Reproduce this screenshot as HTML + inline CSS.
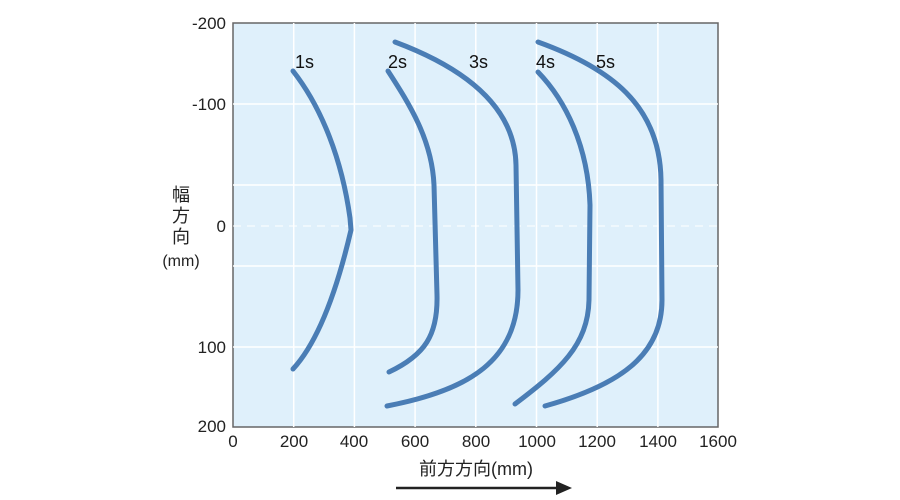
<!DOCTYPE html>
<html><head><meta charset="utf-8"><style>
body{margin:0;background:#fff;}
svg{display:block;font-family:"Liberation Sans","Noto Sans CJK JP",sans-serif;}
</style></head><body>
<svg width="900" height="500" viewBox="0 0 900 500">
<rect x="233" y="23" width="485" height="404" fill="#dff0fb" stroke="#666" stroke-width="1.5"/>
<g stroke="#fff" stroke-width="1.5">
<line x1="293.7" y1="23" x2="293.7" y2="427"/>
<line x1="354.4" y1="23" x2="354.4" y2="427"/>
<line x1="415.1" y1="23" x2="415.1" y2="427"/>
<line x1="475.8" y1="23" x2="475.8" y2="427"/>
<line x1="536.5" y1="23" x2="536.5" y2="427"/>
<line x1="597.2" y1="23" x2="597.2" y2="427"/>
<line x1="657.9" y1="23" x2="657.9" y2="427"/>
<line x1="233" y1="104" x2="718" y2="104"/>
<line x1="233" y1="185" x2="718" y2="185"/>
<line x1="233" y1="266" x2="718" y2="266"/>
<line x1="233" y1="347" x2="718" y2="347"/>
<line x1="233" y1="226" x2="718" y2="226" stroke-dasharray="8,6" stroke-width="1"/>
</g>
<g fill="none" stroke="#4a7db5" stroke-width="5" stroke-linecap="round" stroke-linejoin="round">
<path d="M293,71 C322,108 342,160 350,218 L351,230 C337,290 318,342 293,369"/>
<path d="M388,71 C410,105 432,140 434,185 L437,295 C438,335 425,355 389,372"/>
<path d="M395,42 C470,70 515,110 516,165 L518,290 C518,360 470,390 387,406"/>
<path d="M538,72 C565,100 588,145 590,205 L589,300 C588,345 560,370 515,404"/>
<path d="M538,42 C610,68 660,105 661,180 L662,300 C662,355 620,385 545,406"/>
</g>
<g font-size="18" fill="#111">
<text x="295" y="68">1s</text><text x="388" y="68">2s</text><text x="469" y="68">3s</text>
<text x="536" y="68">4s</text><text x="596" y="68">5s</text>
</g>
<g font-size="17" fill="#222" text-anchor="end">
<text x="226" y="29">-200</text><text x="226" y="110">-100</text><text x="226" y="232">0</text>
<text x="226" y="353">100</text><text x="226" y="432">200</text>
</g>
<g font-size="17" fill="#222" text-anchor="middle">
<text x="233" y="447">0</text><text x="294" y="447">200</text><text x="354" y="447">400</text>
<text x="415" y="447">600</text><text x="476" y="447">800</text><text x="537" y="447">1000</text>
<text x="597" y="447">1200</text><text x="658" y="447">1400</text><text x="718" y="447">1600</text>
</g>
<g font-size="18" fill="#222" text-anchor="middle">
<text x="181" y="201">幅</text><text x="181" y="222">方</text><text x="181" y="243">向</text>
<text x="181" y="266" font-size="16">(mm)</text>
<text x="476" y="475">前方方向(mm)</text>
</g>
<line x1="396" y1="488" x2="558" y2="488" stroke="#222" stroke-width="2.5"/>
<polygon points="556,481 572,488 556,495" fill="#222"/>
</svg>
</body></html>
